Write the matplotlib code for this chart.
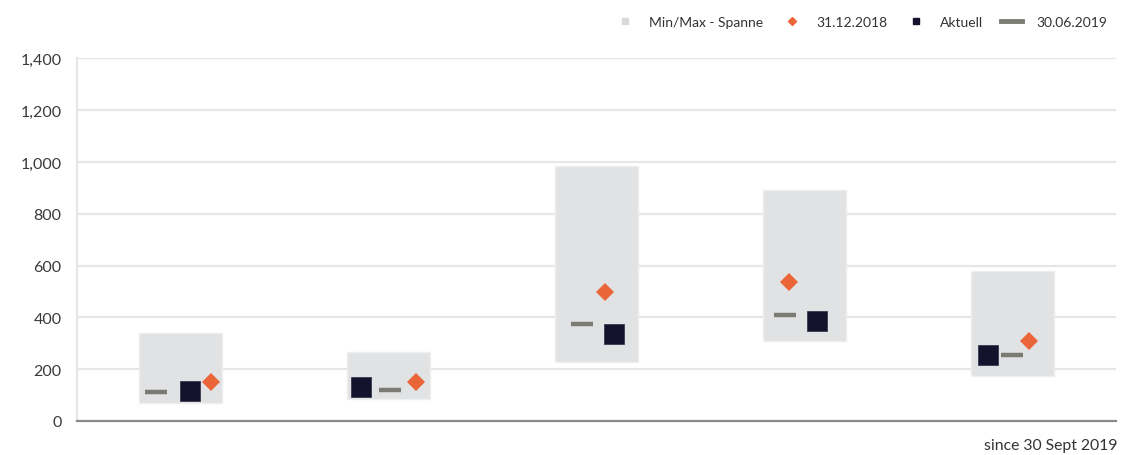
import matplotlib
matplotlib.use("Agg")
import matplotlib.pyplot as plt
from matplotlib.lines import Line2D
import numpy as np

plt.rcParams['font.family'] = ['Lato', 'DejaVu Sans']

# ---- data ----
categories = ["A", "B", "C", "D", "E"]
range_min = [68, 85, 229, 310, 175]
range_max = [340, 266, 986, 893, 580]
val_20181231 = [149, 149, 497, 536, 310]   # diamond
val_aktuell = [117, 130, 337, 385, 256]    # square
val_20190630 = [111, 120, 375, 410, 255]   # dash
y_ticks = [0, 200, 400, 600, 800, 1000, 1200, 1400]
y_tick_labels = ["0", "200", "400", "600", "800", "1,000", "1,200", "1,400"]

# horizontal offsets of each marker inside its category (category units)
off_diamond = [0.144, 0.13, 0.04, -0.072, 0.079]
off_square = [0.043, -0.135, 0.082, 0.062, -0.115]
off_dash = [-0.12, 0.005, -0.07, -0.091, 0.0]

c_box = "#e1e2e4"
c_orange = "#ea6639"
c_navy = "#15122e"
c_dash = "#7b7a73"

fig = plt.figure(figsize=(11.25, 4.56), dpi=100)
ax = fig.add_axes([0.0684, 0.0746, 0.9236, 0.7954])

x = np.arange(len(categories))
ax.bar(x, np.array(range_max) - np.array(range_min), bottom=range_min, width=0.4,
       color=c_box, edgecolor="#efefef", linewidth=1.0, zorder=2)
ax.plot(x + np.array(off_dash), val_20190630, linestyle="none", marker="_",
        markersize=15.5, markeredgewidth=3.2, color=c_dash, zorder=3)
ax.plot(x + np.array(off_square), val_aktuell, linestyle="none", marker="s",
        markersize=14, color=c_navy, markeredgecolor="#3a3850", markeredgewidth=0.6, zorder=4)
ax.plot(x + np.array(off_diamond), val_20181231, linestyle="none", marker="D",
        markersize=9.6, color=c_orange, markeredgewidth=0, zorder=5)

ax.set_xlim(-0.5, len(categories) - 0.5)
ax.set_ylim(0, 1400)
ax.set_yticks(y_ticks)
ax.set_yticklabels(y_tick_labels)
ax.set_xticks([])
ax.tick_params(axis="y", length=0, pad=11, labelsize=11.5, labelcolor="#3a3a3a")
ax.grid(axis="y", color="#e6e6e6", linewidth=1.6, zorder=0)
ax.set_axisbelow(True)
for s in ["top", "right"]:
    ax.spines[s].set_visible(False)
ax.spines["left"].set_color("#e6e6e6")
ax.spines["left"].set_linewidth(1.6)
ax.spines["bottom"].set_color("#8a8a8a")
ax.spines["bottom"].set_linewidth(1.6)

handles = [
    Line2D([], [], linestyle="none", marker="s", markersize=5, color="#d9d9d9"),
    Line2D([], [], linestyle="none", marker="D", markersize=4.5, color=c_orange),
    Line2D([], [], linestyle="none", marker="s", markersize=5, color=c_navy),
    Line2D([], [], linestyle="-", linewidth=3.5, color=c_dash),
]
labels = ["Min/Max - Spanne", "31.12.2018", "Aktuell", "30.06.2019"]
fig.legend(handles, labels, loc="upper right", bbox_to_anchor=(0.995, 0.991), ncol=4,
           frameon=False, fontsize=10, handlelength=1.5, handletextpad=1.0,
           columnspacing=1.3, labelcolor="#333333")

fig.text(0.993, 0.022, "since 30 Sept 2019", ha="right", va="center",
         fontsize=11.3, color="#333333")

fig.savefig("out.png", dpi=100, facecolor="white")
